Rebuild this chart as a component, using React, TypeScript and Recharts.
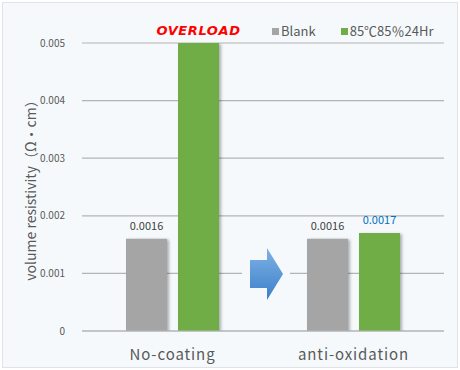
import { Bar, BarChart, CartesianGrid, LabelList, Label, XAxis, YAxis } from "recharts";

const categories = ["No-coating", "anti-oxidation"];
const blank = [0.0016, 0.0016];
const heat = [0.005, 0.0017];
const heatOverload = [true, false];
const yTicks = [0, 0.001, 0.002, 0.003, 0.004, 0.005];
const seriesNames = ["Blank", "85℃85％24Hr"];

const data = categories.map((name, i) => ({
  name,
  blank: blank[i],
  heat: heat[i],
  overload: heatOverload[i],
}));

const FONT = "'Noto Sans CJK JP', 'Noto Sans', sans-serif";
const GRAY = "#a5a5a5";
const GREEN = "#70ad47";

function ValueLabel(props: any) {
  const { x, y, width, value, index, color, series } = props;
  if (series === "heat" && data[index].overload) {
    return (
      <text x={x + width / 2} y={y - 8} textAnchor="middle" fill="#ff0000" fontSize={13}
        fontWeight="bold" fontStyle="italic" fontFamily="'DejaVu Sans', sans-serif" letterSpacing={0.6}>
        OVERLOAD
      </text>
    );
  }
  return (
    <text x={x + width / 2} y={y - 9} textAnchor="middle" fill={color} fontSize={11} fontFamily={FONT}>
      {value}
    </text>
  );
}

function LegendBox() {
  const colors = [GRAY, GREEN];
  return (
    <div style={{ display: "flex", gap: 25, fontFamily: FONT, fontSize: 13, color: "#595959", lineHeight: "16px" }}>
      {seriesNames.map((label, i) => (
        <span key={label} style={{ display: "flex", alignItems: "center" }}>
          <span style={{ width: 7, height: 7, background: colors[i], marginRight: 2 }} />
          {label}
        </span>
      ))}
    </div>
  );
}

export default function App() {
  return (
    <div style={{ position: "absolute", left: 0, top: 0, width: 460, height: 370, background: "#fff" }}>
      <div style={{ position: "absolute", left: 2, top: 2, width: 454, height: 364, background: "#f5f9fc", border: "1px solid #dfe3e6" }} />
      <div style={{ position: "absolute", left: 0, top: 0 }}>
        <BarChart width={460} height={370} data={data} margin={{ top: 43, right: 16, bottom: 9, left: 0 }}
          barGap={11} barCategoryGap={44}>
          <defs>
            <filter id="sh" x="-20%" y="-5%" width="150%" height="110%">
              <feDropShadow dx="2" dy="1" stdDeviation="1.5" floodColor="#000" floodOpacity="0.3" />
            </filter>
          </defs>
          <CartesianGrid vertical={false} stroke="#b4b4b4" strokeWidth={1.2} />
          <XAxis dataKey="name" axisLine={{ stroke: "#b4b4b4" }} tickLine={false} tickMargin={12}
            tick={{ fill: "#595959", fontSize: 15, fontFamily: FONT, letterSpacing: 0.9 }} />
          <YAxis width={82} domain={[0, 0.005]} ticks={yTicks} axisLine={false} tickLine={false} tickMargin={11}
            tick={{ fill: "#595959", fontSize: 10, fontFamily: FONT }} allowDataOverflow>
            <Label value="volume resistivity（Ω・cm）" angle={-90} position="insideLeft" offset={31}
              style={{ textAnchor: "middle", fill: "#595959", fontSize: 14, fontFamily: FONT }} />
          </YAxis>
          <Bar dataKey="blank" name={seriesNames[0]} fill={GRAY} isAnimationActive={false} filter="url(#sh)">
            <LabelList dataKey="blank" content={<ValueLabel color="#404040" series="blank" />} />
          </Bar>
          <Bar dataKey="heat" name={seriesNames[1]} fill={GREEN} isAnimationActive={false} filter="url(#sh)">
            <LabelList dataKey="heat" content={<ValueLabel color="#0070c0" series="heat" />} />
          </Bar>
        </BarChart>
      </div>
      <div style={{ position: "absolute", left: 272, top: 23 }}>
        <LegendBox />
      </div>
      <svg style={{ position: "absolute", left: 240, top: 240 }} width={54} height={70}>
        <defs>
          <linearGradient id="ag" x1="0" y1="0" x2="0" y2="1">
            <stop offset="0" stopColor="#7fb2e5" />
            <stop offset="1" stopColor="#3b7fc9" />
          </linearGradient>
        </defs>
        <rect x={2} y={4} width={48} height={62} fill="#f5f9fc" />
        <path d="M10 20 H27 V8 L43 34 L27 60 V48 H10 Z" fill="url(#ag)" />
      </svg>
    </div>
  );
}
